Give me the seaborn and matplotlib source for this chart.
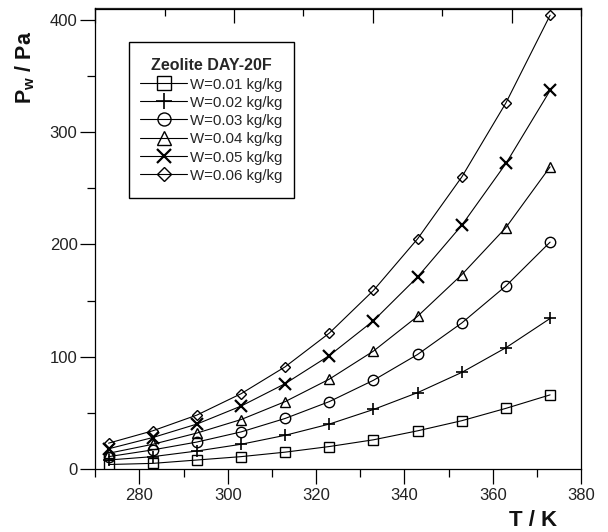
import numpy as np
import pandas as pd
import matplotlib
matplotlib.use("Agg")
import matplotlib.pyplot as plt
from matplotlib.patches import Rectangle
from matplotlib.ticker import MultipleLocator, FixedLocator, NullFormatter
import seaborn as sns

sns.set_theme(style="white")
plt.rcParams['font.family'] = ['Liberation Sans', 'DejaVu Sans']
plt.rcParams['mathtext.fontset'] = 'custom'
plt.rcParams['mathtext.rm'] = 'Liberation Sans'
plt.rcParams['mathtext.bf'] = 'Liberation Sans:bold'

# ---- data ----
T = [273, 283, 293, 303, 313, 323, 333, 343, 353, 363, 373]
w001 = [4, 5, 8, 11, 15, 20, 26, 34, 43, 54, 66]
w002 = [8, 11, 16, 22, 30, 40, 53, 68, 86, 108, 134]
w003 = [11, 17, 24, 33, 45, 60, 79, 102, 130, 163, 202]
w004 = [14, 22, 32, 44, 60, 80, 105, 136, 173, 215, 269]
w005 = [18, 28, 40, 56, 76, 101, 132, 171, 217, 272, 337]
w006 = [23, 34, 48, 67, 91, 121, 159, 205, 260, 326, 404]
labels = ["W=0.01 kg/kg", "W=0.02 kg/kg", "W=0.03 kg/kg",
          "W=0.04 kg/kg", "W=0.05 kg/kg", "W=0.06 kg/kg"]
series = [w001, w002, w003, w004, w005, w006]
legend_title = "Zeolite DAY-20F"

markers = ['s', '+', 'o', '^', 'x', 'D']
msizes = [7.5, 9, 7.5, 7.5, 8.5, 5.5]
mews = [1.0, 1.2, 1.0, 1.0, 1.6, 1.0]

W, H = 608, 532
fig = plt.figure(figsize=(W/100, H/100), dpi=100)
ax = fig.add_axes([95.3/W, 1-469/H, (581-95.3)/W, (469-8.5)/H])

for lab, ys, m, ms, mw in zip(labels, series, markers, msizes, mews):
    sns.lineplot(x=T, y=ys, ax=ax, color='black', lw=0.8, marker=m,
                 markersize=ms, mfc='none', mec='black', mew=mw,
                 label=lab, legend=False)

lines = ax.get_lines()

ax.set_xlim(270, 380)
ax.set_ylim(0, 410)
ax.xaxis.set_major_locator(MultipleLocator(20))
ax.xaxis.set_minor_locator(MultipleLocator(10))
ax.yaxis.set_major_locator(MultipleLocator(100))
ax.yaxis.set_minor_locator(MultipleLocator(50))
ax.tick_params(axis='both', which='major', direction='out', length=10.8,
               width=0.9, color='black', labelsize=12, labelcolor='#222222')
ax.tick_params(axis='both', which='minor', direction='out', length=5.6,
               width=0.9, color='black')
ax.tick_params(axis='x', which='major', pad=3)
ax.tick_params(axis='y', which='major', pad=2)
ax.tick_params(bottom=True, left=True, which='both')
for s in ax.spines.values():
    s.set_color('black')
    s.set_linewidth(0.9)

# top axis ticks (7 equal divisions, inward)
top = ax.secondary_xaxis('top')
tpos = np.linspace(270, 380, 8)
top.xaxis.set_major_locator(FixedLocator(tpos[::2]))
top.xaxis.set_minor_locator(FixedLocator(tpos[1::2]))
top.xaxis.set_major_formatter(NullFormatter())
top.tick_params(which='major', direction='in', length=11, width=0.9, color='black')
top.tick_params(which='minor', direction='in', length=5.6, width=0.9, color='black')
top.spines['top'].set_linewidth(0.9)

ax.set_xlabel("")
ax.set_ylabel("")
fig.text(533/W, 1-520/H, "T / K", ha='center', va='center',
         fontsize=16, fontweight='bold', color='#111111')
fig.text(25/W, 1-67/H, r"$\mathbf{P_w}$ / Pa", ha='center', va='center',
         rotation=90, fontsize=15.5, fontweight='bold', color='#111111')

# legend frame drawn separately
frame = Rectangle((129/W, 1-198/H), (294-129)/W, (198-42)/H,
                  transform=fig.transFigure, facecolor='white',
                  edgecolor='black', linewidth=1.0, zorder=4)
ax.add_artist(frame)

leg = ax.legend(handles=lines, labels=labels, title=legend_title,
                loc='upper left', bbox_to_anchor=(129/W, 1-47/H),
                bbox_transform=fig.transFigure, frameon=False,
                fontsize=10.8, title_fontsize=11.5,
                handlelength=3.1, handletextpad=0.25, labelspacing=0.23,
                handleheight=1.0, borderpad=0.75, borderaxespad=0,
                markerscale=1.25)
leg.set_zorder(5)
leg.get_title().set_fontweight('bold')

fig.savefig("out.png", dpi=100)
